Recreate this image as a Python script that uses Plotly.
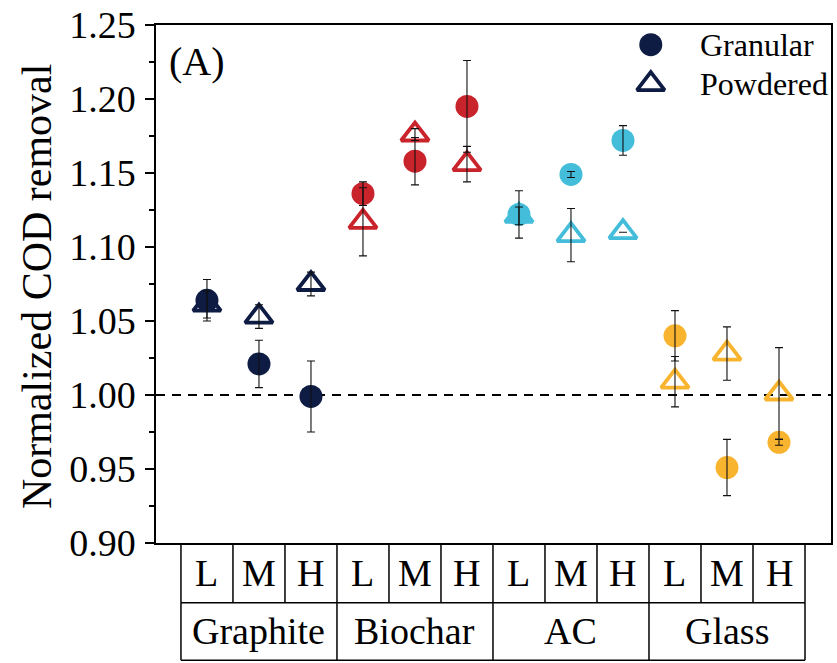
import plotly.graph_objects as go

# ---- data ----
materials = ["Graphite", "Biochar", "AC", "Glass"]
levels = ["L", "M", "H"]
granular = [1.064, 1.021, 0.999, 1.136, 1.158, 1.195, 1.122, 1.149, 1.172, 1.040, 0.951, 0.968]
granular_err = [0.014, 0.016, 0.024, 0.008, 0.016, 0.031, 0.016, 0.002, 0.010, 0.017, 0.019, 0.002]
powdered = [1.061, 1.053, 1.075, 1.117, 1.176, 1.156, 1.121, 1.108, 1.110, 1.009, 1.028, 1.001]
powdered_err = [0.009, 0.008, 0.008, 0.023, 0.004, 0.012, 0.006, 0.018, 0.0, 0.017, 0.018, 0.031]
y_ticks = [0.90, 0.95, 1.00, 1.05, 1.10, 1.15, 1.20, 1.25]

# ---- style ----
material_colors = ["#0e1c44", "#c9232b", "#43bdda", "#f8b42e"]
FONT = "Liberation Serif, Times New Roman, serif"

n_lv = len(levels)
xs = list(range(len(materials) * n_lv))
pt_colors = [material_colors[i // n_lv] for i in xs]

fig = go.Figure()

fig.add_trace(go.Scatter(
    x=xs, y=granular, mode="markers", showlegend=False,
    marker=dict(symbol="circle", size=23, color=pt_colors, line=dict(width=0)),
))
fig.add_trace(go.Scatter(
    x=xs, y=powdered, mode="markers", showlegend=False,
    marker=dict(symbol="triangle-up-open", size=24, color=pt_colors,
                line=dict(width=3.8, color=pt_colors)),
))
# error bars drawn on top of markers
for vals, errs in [(granular, granular_err), (powdered, powdered_err)]:
    fig.add_trace(go.Scatter(
        x=xs, y=vals, mode="markers", showlegend=False,
        marker=dict(size=1, opacity=0, color="black"),
        error_y=dict(type="data", array=errs, visible=True,
                     color="#111111", thickness=1.1, width=4),
    ))

# ---- legend (overlay axes in plot-area fractions) ----
legend_items = ["Granular", "Powdered"]
legend_symbols = ["circle", "triangle-up-open"]
leg_x = 0.733
leg_y = [0.962, 0.886]
for name, sym, ly in zip(legend_items, legend_symbols, leg_y):
    fig.add_trace(go.Scatter(
        x=[leg_x], y=[ly], mode="markers", showlegend=False,
        xaxis="x2", yaxis="y2", cliponaxis=False,
        marker=dict(symbol=sym, size=24 if "open" in sym else 23, color=material_colors[0],
                    line=dict(width=3.8 if "open" in sym else 0, color=material_colors[0])),
    ))
    fig.add_annotation(x=0.803, y=ly, xref="paper", yref="paper", text=name,
                       showarrow=False, xanchor="left", yanchor="middle",
                       font=dict(family=FONT, size=32, color="black"))

# dashed reference line
fig.add_shape(type="line", xref="paper", yref="y", x0=0, x1=1, y0=1.0, y1=1.0,
              line=dict(color="black", width=2, dash="9px,7px"), layer="below")

# ---- category table under the axis ----
PLOT_H = 521
row1 = -60 / PLOT_H
row2 = -118 / PLOT_H
x_left = xs[0] - 0.5
x_right = xs[-1] + 0.5
line_style = dict(color="black", width=1.5)
fig.add_shape(type="line", xref="x", yref="paper", x0=x_left, x1=x_right, y0=row1, y1=row1, line=line_style)
fig.add_shape(type="line", xref="x", yref="paper", x0=x_left, x1=x_right, y0=row2, y1=row2, line=line_style)
for i in range(len(xs) + 1):
    xv = i - 0.5
    fig.add_shape(type="line", xref="x", yref="paper", x0=xv, x1=xv, y0=0, y1=row1, line=line_style)
for j in range(len(materials) + 1):
    xv = j * n_lv - 0.5
    fig.add_shape(type="line", xref="x", yref="paper", x0=xv, x1=xv, y0=row1, y1=row2, line=line_style)
for i in xs:
    fig.add_annotation(x=i, y=row1 / 2, xref="x", yref="paper", text=levels[i % n_lv],
                       showarrow=False, xanchor="center", yanchor="middle",
                       font=dict(family=FONT, size=38, color="black"))
for j, m in enumerate(materials):
    fig.add_annotation(x=j * n_lv + (n_lv - 1) / 2, y=(row1 + row2) / 2, xref="x", yref="paper",
                       text=m, showarrow=False, xanchor="center", yanchor="middle",
                       font=dict(family=FONT, size=38, color="black"))

# panel label
fig.add_annotation(x=0.016, y=0.93, xref="paper", yref="paper", text="(A)",
                   showarrow=False, xanchor="left", yanchor="middle",
                   font=dict(family=FONT, size=40, color="black"))
# y-axis title
fig.add_annotation(x=-0.177, y=0.495, xref="paper", yref="paper", text="Normalized COD removal",
                   showarrow=False, textangle=-90, xanchor="center", yanchor="middle",
                   font=dict(family=FONT, size=42, color="black"))

fig.update_layout(
    width=837, height=663,
    margin=dict(l=156, r=4, t=22, b=120),
    plot_bgcolor="white", paper_bgcolor="white",
    showlegend=False,
    font=dict(family=FONT, color="black"),
    xaxis=dict(range=[-0.98, 12.0], showgrid=False, zeroline=False,
               showticklabels=False, ticks="", showline=True, mirror=True,
               linecolor="black", linewidth=1.5),
    yaxis=dict(range=[0.90, 1.25], tickvals=y_ticks,
               ticktext=[f"{v:.2f}" for v in y_ticks],
               showgrid=False, zeroline=False, ticks="outside", ticklen=9,
               tickwidth=1.5, tickcolor="black", ticklabelstandoff=2,
               tickfont=dict(family=FONT, size=38, color="black"),
               showline=True, mirror=True, linecolor="black", linewidth=1.5,
               minor=dict(ticks="outside", ticklen=5, tickwidth=1.5, tickcolor="black",
                          dtick=0.025, tick0=0.9, showgrid=False)),
    xaxis2=dict(overlaying="x", range=[0, 1], visible=False, fixedrange=True),
    yaxis2=dict(overlaying="y", range=[0, 1], visible=False, fixedrange=True),
)

fig.write_html("out.html", config={"displayModeBar": False},
               post_script="document.body.style.margin='0px';")
